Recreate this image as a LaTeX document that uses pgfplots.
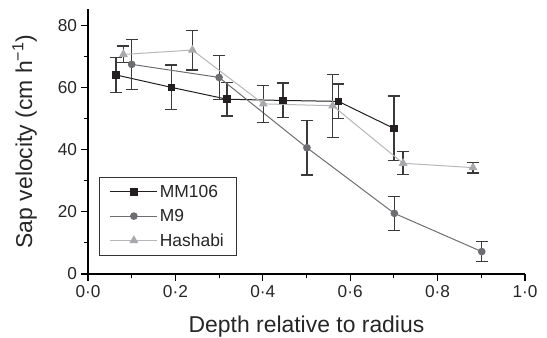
\documentclass[border=0pt]{standalone}
\usepackage{fontspec}
\setmainfont{Liberation Sans}
\usepackage{pgfplots}
\pgfplotsset{compat=1.18}
\definecolor{cA}{HTML}{231F20}
\definecolor{cB}{HTML}{6D6E71}
\definecolor{cC}{HTML}{A7A9AC}
\definecolor{cCl}{HTML}{B5B7BA}
\definecolor{eb}{HTML}{3A3A3A}
\begin{document}
\begin{tikzpicture}
\path (-88bp,-64bp) rectangle (459bp,274bp);
\begin{axis}[
  at={(0,0)}, anchor=south west,
  scale only axis, width=437bp, height=265bp,
  xmin=0, xmax=1, ymin=0, ymax=85.2,
  axis lines=left, axis line style={-, line width=1.1bp, black},
  xtick={0,0.2,0.4,0.6,0.8,1.0},
  xticklabels={0·0,0·2,0·4,0·6,0·8,1·0},
  ytick={0,20,40,60,80},
  yticklabels={0,20,40,60,80},
  minor xtick={0.1,0.3,0.5,0.7,0.9},
  minor ytick={10,30,50,70},
  tick align=outside,
  major tick length=7bp, minor tick length=4bp,
  tick style={line width=1.1bp, black},
  ticklabel style={font=\fontsize{17.3}{19}\selectfont, text=black!85},
  xticklabel style={yshift=-0.5bp},
  yticklabel style={xshift=-0.5bp},
  xlabel={Depth relative to radius},
  ylabel={Sap velocity (cm h\textsuperscript{−1})},
  label style={font=\fontsize{23}{26}\selectfont, text=black!85},
  xlabel style={at={(axis description cs:0.5,-0.158)}, anchor=north, inner sep=0pt},
  ylabel style={at={(axis description cs:-0.162,0.5)}, anchor=south, rotate=0, inner sep=0pt, yshift=-20bp},
  clip=false,
  legend cell align=left,
  legend style={at={(axis description cs:0.025,0.068)}, anchor=south west,
    draw=black!80, line width=0.9bp, font=\fontsize{17.5}{19}\selectfont, text=black!85,
    inner xsep=10.5bp, inner ysep=6bp, row sep=6.5bp},
  legend image code/.code={\draw[mark repeat=2,mark phase=2] plot coordinates {(0bp,0bp)(23.5bp,0bp)(47bp,0bp)};},
  error bars/error bar style={line width=1.2bp, eb},
  error bars/error mark options={line width=1.2bp, eb, mark size=6bp, rotate=90},
]
\addplot[color=cA, line width=1bp, mark=square*, mark size=3.3bp, mark options={fill=cA, draw=cA},
  error bars/.cd, y dir=both, y explicit]
  coordinates {
  (0.064,64.0) +- (0,5.7)
  (0.191,60.0) +- (0,7.2)
  (0.318,56.2) +- (0,5.4)
  (0.446,55.8) +- (0,5.6)
  (0.573,55.5) +- (0,5.6)
  (0.700,46.8) +- (0,10.4)
  };
\addlegendentry{MM106}
\addplot[color=cB, line width=1bp, mark=*, mark size=3.3bp, mark options={fill=cB, draw=cB},
  error bars/.cd, y dir=both, y explicit]
  coordinates {
  (0.100,67.4) +- (0,8.1)
  (0.300,63.2) +- (0,7.0)
  (0.501,40.6) +- (0,8.8)
  (0.701,19.5) +- (0,5.5)
  (0.901,7.2) +- (0,3.3)
  };
\addlegendentry{M9}
\addplot[color=cCl, line width=1bp, mark=triangle*, mark size=4.2bp, mark options={fill=cC, draw=cC},
  error bars/.cd, y dir=both, y explicit]
  coordinates {
  (0.081,70.6) +- (0,2.7)
  (0.239,72.0) +- (0,6.4)
  (0.401,54.7) +- (0,6.0)
  (0.560,54.1) +- (0,10.1)
  (0.721,35.6) +- (0,3.7)
  (0.881,34.2) +- (0,1.7)
  };
\addlegendentry{Hashabi}
\end{axis}
\end{tikzpicture}
\end{document}
